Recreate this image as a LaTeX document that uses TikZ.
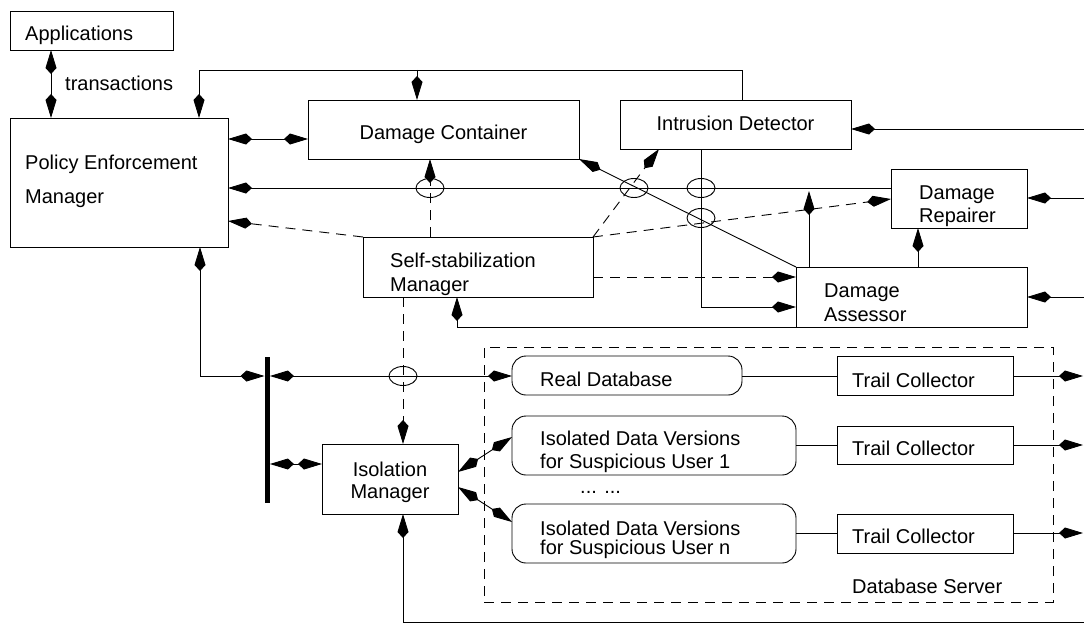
\documentclass[tikz,border=0pt]{standalone}
\usepackage{fontspec}
\setmainfont{Liberation Sans}
\usetikzlibrary{arrows.meta}

\begin{document}
\begin{tikzpicture}[x=1pt,y=-1pt,
  >={Kite[length=24pt 0 0,width=11pt 0 0,inset=6pt 0 0]},
  ln/.style={line width=0.9pt},
  box/.style={draw, line width=0.9pt, anchor=north west, inner sep=0pt, outer sep=0pt},
  rbox/.style={box, rounded corners=14pt},
  txt/.style={anchor=base west, inner sep=0pt, font=\fontsize{20}{24}\selectfont},
  ctxt/.style={anchor=base, inner sep=0pt, font=\fontsize{20}{24}\selectfont},
  dsh/.style={ln, dash pattern=on 10pt off 7pt},
  hop/.style={ln},
]
\useasboundingbox (0,0) rectangle (1084,634);

% ---------- boxes ----------
\node[box, minimum width=163pt, minimum height=39pt]  (app)  at (10,11)  {};
\node[box, minimum width=218pt, minimum height=129pt] (pem)  at (10,118) {};
\node[box, minimum width=271pt, minimum height=59pt]  (dc)   at (308,100) {};
\node[box, minimum width=231pt, minimum height=49pt]  (id)   at (620,100) {};
\node[box, minimum width=136pt, minimum height=59pt]  (dr)   at (891,169) {};
\node[box, minimum width=231pt, minimum height=60pt]  (da)   at (796,267) {};
\node[box, minimum width=230pt, minimum height=60pt]  (ssm)  at (363,237) {};
\node[box, minimum width=136pt, minimum height=70pt]  (im)   at (322,444) {};
\node[rbox, minimum width=230pt, minimum height=39pt] (rdb)  at (512,356) {};
\node[rbox, minimum width=284pt, minimum height=59pt] (idv1) at (512,416) {};
\node[rbox, minimum width=284pt, minimum height=59pt] (idvn) at (512,504) {};
\node[box, minimum width=176pt, minimum height=39pt]  (tc1)  at (837,356) {};
\node[box, minimum width=176pt, minimum height=38pt]  (tc2)  at (837,426) {};
\node[box, minimum width=176pt, minimum height=39pt]  (tc3)  at (837,514) {};
\node[box, dsh, minimum width=569pt, minimum height=255pt] (dbs) at (484,347) {};
\node[fill, anchor=north west, inner sep=0pt, minimum width=5pt, minimum height=146pt] (bar) at (264.5,357) {};

% ---------- texts ----------
\node[txt] (app-t)  at (25,40.5) {Applications};
\node[txt] (trans)  at (65,90)   {transactions};
\node[txt] (pem-t1) at (25,169)  {Policy Enforcement};
\node[txt] (pem-t2) at (25,203)  {Manager};
\node[ctxt] (dc-t)  at (443.5,139) {Damage Container};
\node[ctxt] (id-t)  at (735.5,130) {Intrusion Detector};
\node[txt] (dr-t1)  at (919,199) {Damage};
\node[txt] (dr-t2)  at (919,222) {Repairer};
\node[txt] (da-t1)  at (824,297) {Damage};
\node[txt] (da-t2)  at (824,321) {Assessor};
\node[txt] (ssm-t1) at (390,267) {Self-stabilization};
\node[txt] (ssm-t2) at (390,291) {Manager};
\node[ctxt] (im-t1) at (390,476) {Isolation};
\node[ctxt] (im-t2) at (390,498) {Manager};
\node[txt] (rdb-t)  at (540,386) {Real Database};
\node[txt] (idv1-t1) at (540,445) {Isolated Data Versions};
\node[txt] (idv1-t2) at (540,468) {for Suspicious User 1};
\node[txt] (idvn-t1) at (540,535) {Isolated Data Versions};
\node[txt] (idvn-t2) at (540,554) {for Suspicious User n};
\node[txt] (dots)   at (580,493) {... ...};
\node[txt] (tc1-t)  at (852,387) {Trail Collector};
\node[txt] (tc2-t)  at (852,455) {Trail Collector};
\node[txt] (tc3-t)  at (852,543) {Trail Collector};
\node[txt] (dbs-t)  at (852,593) {Database Server};

% ---------- outside feeds ----------
\coordinate (in-id) at (1084,129);
\coordinate (in-dr) at (1084,198);
\coordinate (in-da) at (1084,297);
\coordinate (out1)  at (1083,376);
\coordinate (out2)  at (1083,445);
\coordinate (out3)  at (1083,533);
\coordinate (in-im) at (1084,622);

% ---------- connectors ----------
\draw[ln,<->] (app.south -| 51,0) -- (pem.north -| 51,0);

% intrusion detector reports to the policy manager and the container
\coordinate (tl) at (199,70);
\coordinate (tr) at (742,70);
\coordinate (tj) at (417,70);
\draw[ln,->] (id.north -| tr) -- (tr) -- (tl) -- (pem.north -| tl);
\draw[ln,->] (tj) -- (dc.north -| tj);

\draw[ln,<->] (pem.east |- 0,139) -- (dc.west |- 0,139);
\draw[ln,->] (in-id) -- (id.east |- in-id);

% repairer / assessor bus to the policy manager
\draw[ln,->] (dr.west |- 0,188) -- (pem.east |- 0,188);
\draw[ln,->] (da.north -| 809,0) -- (809,191);
\draw[ln,->] (da.north -| 918,0) -- (dr.south -| 918,0);
\draw[ln,->] (in-dr) -- (dr.east |- in-dr);
\draw[ln,->] (in-da) -- (da.east |- in-da);

% self-stabilization manager controls
\draw[dsh,->] (ssm.north east) -- (id.south -| 659,0);
\draw[dsh,->] (ssm.north east) -- (dr.west |- 0,199);
\draw[dsh,->] (ssm.north west) -- (pem.east |- 0,221);
\draw[dsh,->] (ssm.north -| 430,0) -- (dc.south -| 430,0);
\draw[dsh,->] (ssm.east |- 0,277) -- (da.west |- 0,277);
\draw[dsh,->] (ssm.south -| 403,0) -- (im.north -| 403,0);

\draw[ln,->] (da.north west) -- (dc.south east);
\draw[ln,->] (id.south -| 701,0) |- (da.west |- 0,307);
\draw[ln,->] (da.south west) -| (ssm.south -| 457,0);

% crossing marks
\draw[hop] (430,188) ellipse [x radius=14, y radius=9.5];
\draw[hop] (634,188) ellipse [x radius=14, y radius=9.5];
\draw[hop] (701,188) ellipse [x radius=14, y radius=9.5];
\draw[hop] (701,218) ellipse [x radius=14, y radius=9.5];
\draw[hop] (403,376) ellipse [x radius=14, y radius=9.5];

% transaction bus
\draw[ln,<->] (pem.south -| 200,0) |- (bar.west |- 0,376);
\draw[ln,<->] (bar.east |- 0,376) -- (rdb.west |- 0,376);
\draw[ln,<->] (bar.east |- 0,464) -- (im.west |- 0,464);
\draw[ln,<->] (im.east |- 0,472) -- (idv1.west |- 0,437);
\draw[ln,<->] (im.east |- 0,487) -- (idvn.west |- 0,522);

% trail collectors
\draw[ln] (rdb.east |- 0,376) -- (tc1.west |- 0,376);
\draw[ln] (idv1.east |- 0,445) -- (tc2.west |- 0,445);
\draw[ln] (idvn.east |- 0,533) -- (tc3.west |- 0,533);
\draw[ln,->] (tc1.east |- out1) -- (out1);
\draw[ln,->] (tc2.east |- out2) -- (out2);
\draw[ln,->] (tc3.east |- out3) -- (out3);

\draw[ln,->] (in-im) -| (im.south -| 403,0);
\end{tikzpicture}
\end{document}
